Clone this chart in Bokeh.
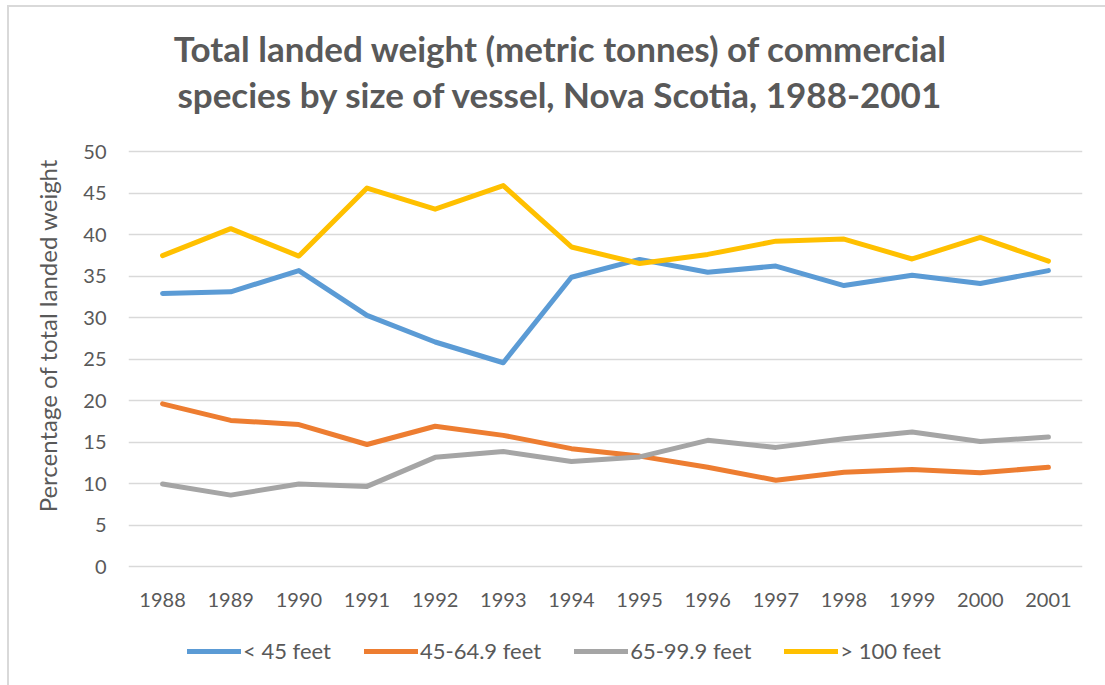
from bokeh.plotting import figure
from bokeh.models import (FactorRange, Range1d, FixedTicker, Legend, LegendItem, Label)
from bokeh.embed import file_html
from bokeh.resources import INLINE

years = ["1988", "1989", "1990", "1991", "1992", "1993", "1994",
         "1995", "1996", "1997", "1998", "1999", "2000", "2001"]
lt_45 = [32.9, 33.1, 35.65, 30.25, 27.05, 24.55, 34.85, 37.0, 35.45, 36.2, 33.85, 35.1, 34.1, 35.65]
ft_45_649 = [19.6, 17.6, 17.1, 14.7, 16.9, 15.8, 14.2, 13.3, 11.95, 10.4, 11.35, 11.7, 11.3, 11.95]
ft_65_999 = [9.95, 8.6, 9.95, 9.65, 13.15, 13.85, 12.65, 13.2, 15.2, 14.35, 15.4, 16.2, 15.05, 15.6]
gt_100 = [37.45, 40.7, 37.4, 45.6, 43.05, 45.9, 38.5, 36.5, 37.6, 39.2, 39.45, 37.05, 39.65, 36.8]

series_names = ["< 45 feet", "45-64.9 feet", "65-99.9 feet", "> 100 feet"]
series_values = [lt_45, ft_45_649, ft_65_999, gt_100]
series_colors = ["#5b9bd5", "#ed7d31", "#a5a5a5", "#ffc000"]
y_ticks = [0, 5, 10, 15, 20, 25, 30, 35, 40, 45, 50]

title_lines = ["Total landed weight (metric tonnes) of commercial",
               "species by size of vessel, Nova Scotia, 1988-2001"]
y_label = "Percentage of total landed weight"

FONT = "Lato"
TXT = "#595959"

# frame spans the full height; the value range is padded so 0..50 sits where the
# reference draws its plot area, leaving room for title and legend inside the frame
W, H = 1105, 685
FRAME_BOTTOM_PAD = 15
PX_PER_UNIT = 8.3
Y0_PX, Y50_PX = 566, 151
y_start = -((H - FRAME_BOTTOM_PAD) - Y0_PX) / PX_PER_UNIT
y_end = 50 + Y50_PX / PX_PER_UNIT

p = figure(width=W, height=H, x_range=FactorRange(*years), y_range=Range1d(y_start, y_end),
           output_backend="svg", toolbar_location=None,
           min_border_left=128, min_border_right=23, min_border_top=0,
           min_border_bottom=FRAME_BOTTOM_PAD)
p.title.visible = False
p.outline_line_color = None
p.background_fill_color = None
p.border_fill_color = None
# light chart-area border (left and top edges) drawn behind the transparent canvas
p.styles = {
    "background-color": "white",
    "background-image": "linear-gradient(#d9d9d9, #d9d9d9), linear-gradient(#d9d9d9, #d9d9d9)",
    "background-size": "2px 100%, 100% 2px",
    "background-position": "7px 6px, 7px 5px",
    "background-repeat": "no-repeat",
}

for txt, sy in zip(title_lines, [623, 577]):
    p.add_layout(Label(x=432, y=sy, x_units="screen", y_units="screen", text=txt,
                       text_font=FONT, text_font_size="35px", text_font_style="bold",
                       text_color=TXT, text_align="center", text_baseline="alphabetic"))

p.xgrid.grid_line_color = None
p.ygrid.grid_line_color = "#d9d9d9"
p.ygrid.grid_line_width = 1.5
p.yaxis.ticker = FixedTicker(ticks=y_ticks)
p.xaxis.fixed_location = 0

for ax in (p.xaxis, p.yaxis):
    ax.axis_line_color = None
    ax.major_tick_line_color = None
    ax.minor_tick_line_color = None
    ax.major_tick_out = 0
    ax.major_tick_in = 0
    ax.major_label_text_font = FONT
    ax.major_label_text_font_size = "20px"
    ax.major_label_text_color = TXT
p.xaxis.major_label_standoff = 26
p.yaxis.major_label_standoff = 22
p.yaxis.axis_label = y_label
p.yaxis.axis_label_text_font = FONT
p.yaxis.axis_label_text_font_size = "24px"
p.yaxis.axis_label_text_font_style = "normal"
p.yaxis.axis_label_text_color = TXT
p.yaxis.axis_label_standoff = 18

items = []
for name, vals, col in zip(series_names, series_values, series_colors):
    r = p.line(x=years, y=vals, line_color=col, line_width=5, line_cap="round", line_join="round")
    items.append(LegendItem(label=name, renderers=[r]))

legend = Legend(items=items, orientation="horizontal", location=(59, 6),
                label_text_font=FONT, label_text_font_size="22px", label_text_color=TXT,
                glyph_width=54, glyph_height=20, label_standoff=2, spacing=33,
                border_line_color=None, background_fill_alpha=0, padding=0, margin=0)
p.add_layout(legend)

open("out.html", "w").write(file_html(p, INLINE))
